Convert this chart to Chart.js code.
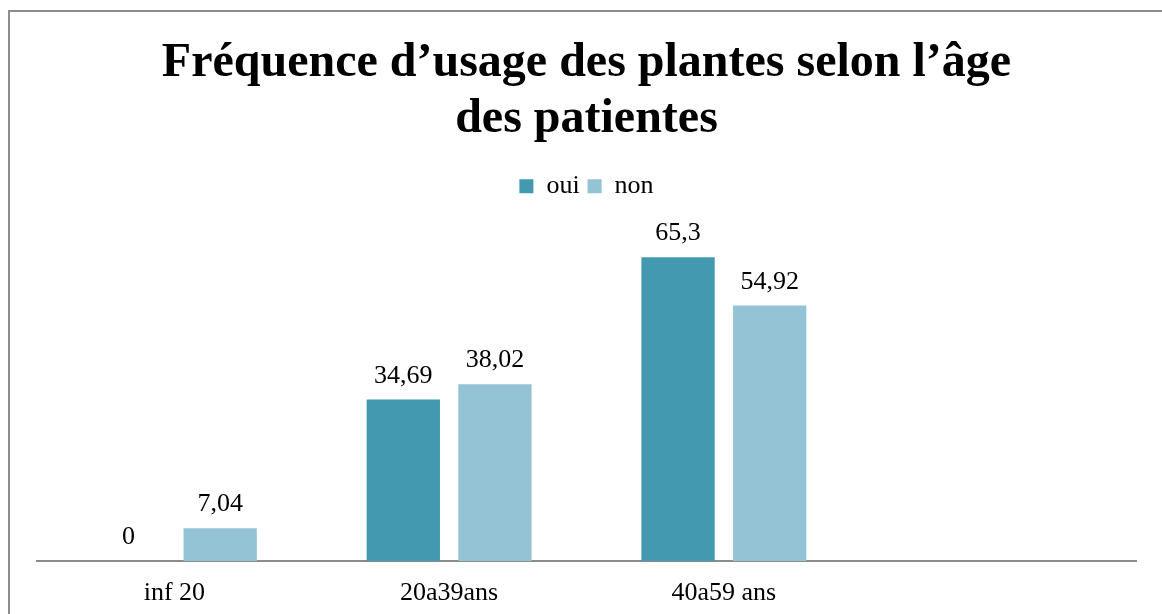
<!DOCTYPE html>
<html>
<head>
<meta charset="utf-8">
<script src="https://cdn.jsdelivr.net/npm/chart.js@4"></script>
<style>
  html, body { margin: 0; padding: 0; background: #fff; overflow: hidden; }
  #frame { position: absolute; left: 8px; top: 10px; width: 1170px; height: 640px; border: 2px solid #8c8c8c; }
  #wrap { position: absolute; left: 0; top: 0; width: 1162px; height: 614px; }
</style>
</head>
<body>
<div id="frame"></div>
<div id="wrap"><canvas id="chart"></canvas></div>
<script>
// --- data ---
const categories = ['inf 20', '20a39ans', '40a59 ans', ''];
const ouiValues = [0, 34.69, 65.3, null];
const nonValues = [7.04, 38.02, 54.92, null];
const seriesNames = ['oui', 'non'];

const SERIF = '"Liberation Serif", "Times New Roman", serif';

// value labels above the bars, with a decimal comma
const barLabels = {
  id: 'barLabels',
  afterDatasetsDraw(chart) {
    const ctx = chart.ctx;
    ctx.save();
    ctx.font = '26px ' + SERIF;
    ctx.fillStyle = '#000';
    ctx.textAlign = 'center';
    ctx.textBaseline = 'alphabetic';
    chart.data.datasets.forEach((ds, i) => {
      chart.getDatasetMeta(i).data.forEach((bar, j) => {
        const v = ds.data[j];
        if (v === null || v === undefined) return;
        ctx.fillText(String(v).replace('.', ','), bar.x, bar.y - 17);
      });
    });
    ctx.restore();
  }
};

// extra room under the legend
const legendGap = {
  id: 'legendGap',
  beforeInit(chart) {
    const fit = chart.legend.fit;
    chart.legend.fit = function () {
      fit.bind(chart.legend)();
      this.height += 26;
    };
  }
};

new Chart(document.getElementById('chart'), {
  type: 'bar',
  data: {
    labels: categories,
    datasets: [
      { label: seriesNames[0], data: ouiValues, backgroundColor: '#4299b0' },
      { label: seriesNames[1], data: nonValues, backgroundColor: '#93c3d5' }
    ]
  },
  options: {
    responsive: true,
    maintainAspectRatio: false,
    animation: false,
    layout: { padding: { left: 37, right: 26, top: 0, bottom: 0 } },
    datasets: { bar: { categoryPercentage: 0.667, barPercentage: 0.8 } },
    plugins: {
      title: {
        display: true,
        text: ['Fréquence d\u2019usage des plantes selon l\u2019âge', 'des patientes'],
        color: '#000',
        font: { family: SERIF, size: 48, weight: 'bold', lineHeight: 1.16 },
        padding: { top: 36, bottom: 18 }
      },
      legend: {
        display: true,
        position: 'top',
        labels: {
          color: '#000',
          font: { family: SERIF, size: 26 },
          boxWidth: 14,
          boxHeight: 14,
          padding: 8
        }
      },
      tooltip: { enabled: false }
    },
    scales: {
      x: {
        grid: { display: false, drawTicks: false },
        border: { display: true, color: '#8c8c8c', width: 2 },
        ticks: { color: '#000', font: { family: SERIF, size: 26 }, padding: 17 },
        afterFit(scale) { scale.height = 53; }
      },
      y: {
        display: false,
        min: 0,
        max: 70
      }
    }
  },
  plugins: [barLabels, legendGap]
});
</script>
</body>
</html>
